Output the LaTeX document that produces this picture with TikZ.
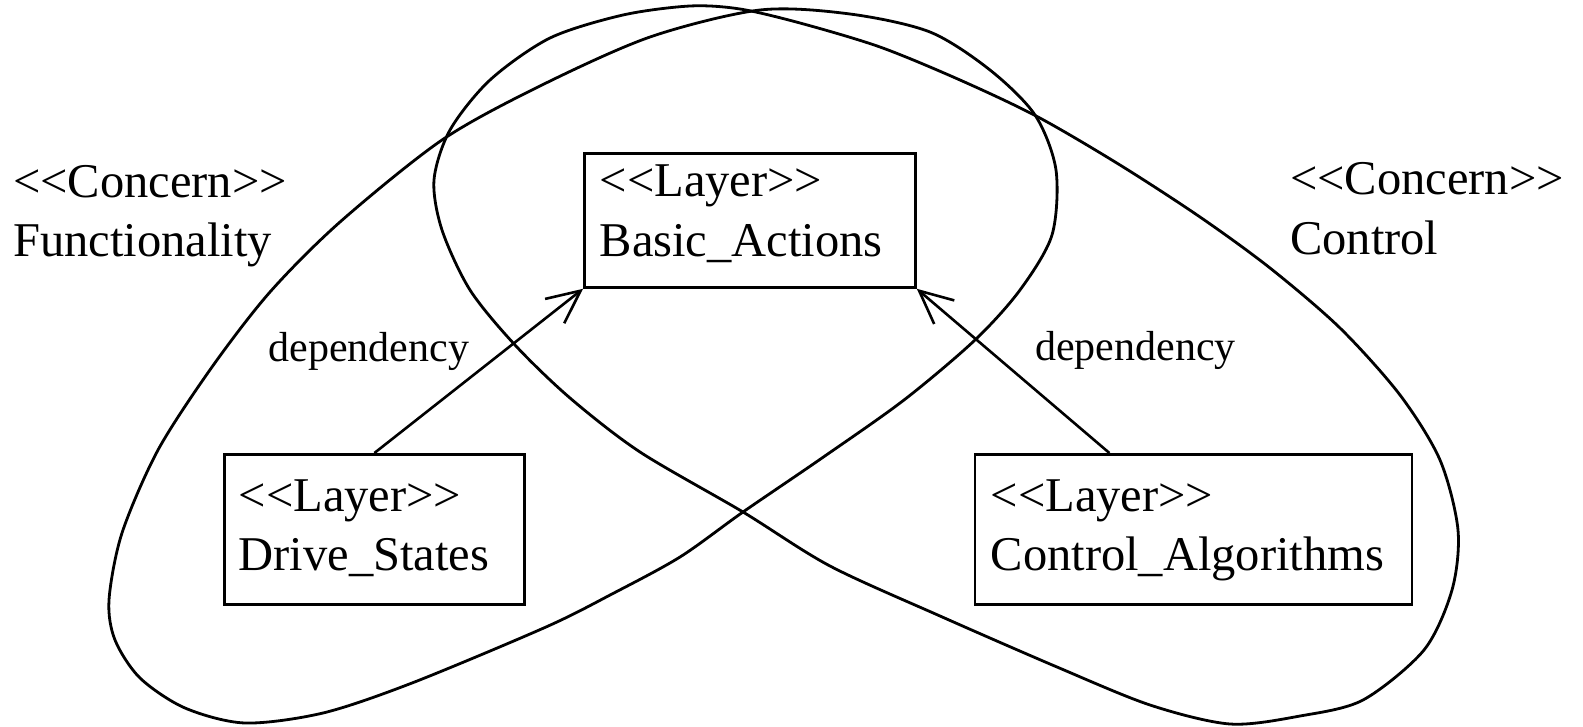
\documentclass[tikz,border=0pt]{standalone}
\usepackage{fontspec}
\setmainfont{Liberation Serif}
\usetikzlibrary{arrows.meta,calc}
% stereotype brackets, kept as two separate characters
\newcommand\dlt{<\kern0pt<}
\newcommand\dgt{>\kern0pt>}

\begin{document}
\begin{tikzpicture}[x=1pt,y=-1pt,
  lbl/.style={font=\fontsize{48.5}{58}\selectfont, inner sep=0pt, anchor=base west},
  deplbl/.style={font=\fontsize{42}{50}\selectfont, inner sep=0pt, anchor=base west},
  layerbox/.style={draw, line width=2.8pt, rectangle, inner sep=0pt, anchor=north west},
  concern/.style={line width=2.8pt},
  dep/.style={line width=2.6pt, -{Straight Barb[length=33pt,width=31pt]}}]
\useasboundingbox (0,0) rectangle (1583,726);

% concern "Functionality": left lobe wrapping over Basic_Actions
\draw[concern] plot[smooth cycle, tension=0.5] coordinates {
  (245,723) (185,708) (140,678) (115,640) (109,600) (122,533) (158,450)
  (212,367) (270,292) (340,222) (442,140) (540,86) (650,37) (760,10)
  (850,14) (930,32) (990,70) (1035,115) (1056,170) (1052,235) (1020,290)
  (975,340) (904,400) (822,458) (743,512) (680,557) (612,594) (546,627)
  (412,683) (323,713)};

% concern "Control": right lobe wrapping over Basic_Actions
\draw[concern] plot[smooth cycle, tension=0.5] coordinates {
  (1230,724) (1300,716) (1363,700) (1424,650) (1452,590) (1458,530)
  (1440,460) (1400,395) (1340,328) (1270,268) (1200,217) (1120,165)
  (1038,117) (960,80) (880,47) (800,23) (740,9) (690,6) (623,15)
  (550,38) (490,80) (450,130) (434,180) (442,230) (470,290) (515,345)
  (570,398) (640,452) (743,512) (830,566) (940,616) (1057,667) (1150,705)};

% concern labels
\node[lbl] (fun1) at (13,197) {\dlt Concern\dgt};
\node[lbl] (fun2) at (13,256) {Functionality};
\node[lbl] (con1) at (1290,194) {\dlt Concern\dgt};
\node[lbl] (con2) at (1290,254) {Control};

% layers
\node[layerbox, minimum width=331pt, minimum height=134pt] (basic) at (583,152) {};
\node[layerbox, minimum width=300pt, minimum height=150pt] (drive) at (223,453) {};
\node[layerbox, minimum width=437pt, minimum height=150pt] (ctrl) at (973.5,453) {};

\node[lbl] (basicA) at ($(basic.north west)+(16.5,44)$) {\dlt Layer\dgt};
\node[lbl] (basicB) at ($(basic.north west)+(16.5,104.5)$) {Basic\_Actions};
\node[lbl] (driveA) at ($(drive.north west)+(15.5,58.5)$) {\dlt Layer\dgt};
\node[lbl] (driveB) at ($(drive.north west)+(15.5,117.5)$) {Drive\_States};
\node[lbl] (ctrlA) at ($(ctrl.north west)+(17,58.5)$) {\dlt Layer\dgt};
\node[lbl] (ctrlB) at ($(ctrl.north west)+(17,117.5)$) {Control\_Algorithms};

% dependencies
\coordinate (ctrltop) at ($(ctrl.north)+(-84,0)$);
\draw[dep] (drive.north) -- (basic.south west);
\draw[dep] (ctrltop) -- (basic.south east);

\node[deplbl] (depL) at (268.5,361.5) {dependency};
\node[deplbl] (depR) at (1035,360.5) {dependency};
\end{tikzpicture}
\end{document}
